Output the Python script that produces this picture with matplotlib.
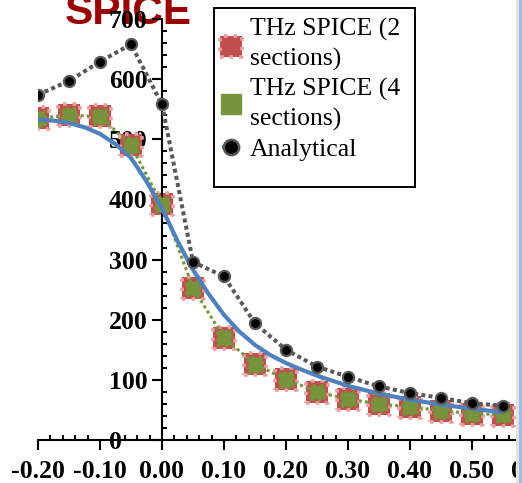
import numpy as np
import matplotlib
matplotlib.use("Agg")
import matplotlib.pyplot as plt
from matplotlib.ticker import MultipleLocator, FormatStrFormatter
from matplotlib.patches import Rectangle
from matplotlib.lines import Line2D

# values
x_spice = [-0.20, -0.15, -0.10, -0.05, 0.00, 0.05, 0.10, 0.15,
           0.20, 0.25, 0.30, 0.35, 0.40, 0.45, 0.50, 0.55]
y_2sec = [535, 540, 538, 490, 392, 253, 170, 126,
          101, 80, 68, 60, 55, 49, 44, 42]
y_4sec = [535, 540, 538, 490, 392, 253, 170, 126,
          101, 80, 68, 60, 55, 49, 44, 42]
y_black = [574, 597, 629, 658, 558, 296, 272, 194,
           150, 122, 105, 89, 78, 70, 61, 57]

x_analytical = [-0.20, -0.175, -0.15, -0.125, -0.10, -0.075, -0.05, -0.025, 0.00,
                0.025, 0.05, 0.075, 0.10, 0.125, 0.15, 0.175, 0.20, 0.225,
                0.25, 0.30, 0.35, 0.40, 0.45, 0.50, 0.55]
y_analytical = [533, 531, 527, 520, 509, 492, 469, 430, 385,
                331, 283, 243, 208, 180, 158, 141, 128, 117,
                107, 90, 77, 67, 59, 52, 46]

labels = ["THz SPICE (2\nsections)", "THz SPICE (4\nsections)", "Analytical"]
title_text = "SPICE"

W, H = 522, 483
fig = plt.figure(figsize=(W / 100, H / 100), dpi=100)
fig.patch.set_facecolor("white")

# axes run past the right edge (the reference is a cropped screenshot)
ax = fig.add_axes([38 / W, 43 / H, 496 / W, 421 / H])
ax.patch.set_visible(False)

red = "#c0504d"
pink = "#e8a0a0"
green = "#77933c"
blue = "#4f81bd"
grey = "#595959"

sc_red = ax.scatter(x_spice, y_2sec, s=250, marker="s", facecolor=red,
                    edgecolor=pink, linewidths=2.6, linestyles=":", zorder=2)
ax.plot(x_spice, y_4sec, color=green, lw=2.2, linestyle=(0, (1, 1)), zorder=3)
ax.scatter(x_spice, y_4sec, s=110, marker="s", facecolor=green,
           edgecolor=green, linewidths=2, linestyles=":", zorder=3)
ax.plot(x_analytical, y_analytical, color=blue, lw=3, zorder=4,
        solid_capstyle="butt")
ax.plot(x_spice, y_black, color=grey, lw=2.9, linestyle=(0, (1, 0.8)),
        marker="o", ms=8, mfc="black", mec=grey, mew=1.6, zorder=5)

ax.set_xlim(-0.2, 0.6)
ax.set_ylim(0, 700)

for s in ["top", "right"]:
    ax.spines[s].set_visible(False)
ax.spines["left"].set_position(("data", 0))
ax.spines["left"].set_linewidth(1.5)
ax.spines["bottom"].set_linewidth(1.5)

ax.xaxis.set_major_locator(MultipleLocator(0.1))
ax.xaxis.set_minor_locator(MultipleLocator(0.02))
ax.yaxis.set_major_locator(MultipleLocator(100))
ax.yaxis.set_minor_locator(MultipleLocator(20))
ax.xaxis.set_major_formatter(FormatStrFormatter("%.2f"))
ax.yaxis.set_major_formatter(FormatStrFormatter("%d"))

ax.tick_params(which="major", direction="out", length=7.2, width=1.5)
ax.tick_params(which="minor", direction="in", length=3.6, width=1.5)
ax.tick_params(axis="x", which="major", pad=7)
ax.tick_params(axis="y", which="major", pad=31)

tick_font = dict(family="Liberation Serif", weight="bold", size=18.5)
for t in ax.get_xticklabels():
    t.set_fontproperties(tick_font)
for t in ax.get_yticklabels():
    t.set_fontproperties(tick_font)
    t.set_ha("left")

fig.text(65 / W, 1 - 24 / H, title_text, color="#990000", fontsize=30.5,
         fontweight="bold", family="Liberation Sans", va="baseline", zorder=-1)

# legend box drawn by hand (reference box has extra room at the bottom)
fig.patches.append(Rectangle((214 / W, 1 - 187 / H), 201 / W, 179 / H,
                             transform=fig.transFigure, facecolor="white",
                             edgecolor="black", lw=1.4, zorder=4))
h_green = Line2D([], [], color=green, lw=2.5, marker="s", ms=15, mfc=green, mec=green)
h_blue = Line2D([], [], color=blue, lw=3)
h_black = Line2D([], [], color=grey, lw=0, marker="o", ms=11, mfc="black", mec=grey, mew=1.8)
leg = fig.legend([sc_red, h_green, (h_blue, h_black)], labels,
                 loc="upper left", bbox_to_anchor=(214 / W, 1 - 8 / H),
                 bbox_transform=fig.transFigure, frameon=False, scatterpoints=1,
                 handlelength=0.5, handletextpad=0.5, borderpad=0.4,
                 borderaxespad=0, labelspacing=0.28,
                 prop=dict(family="Liberation Serif", size=18.5))
for t in leg.get_texts():
    t.set_linespacing(1.38)

# screenshot window edge on the right
fig.patches.append(Rectangle((516 / W, 0), 3 / W, 1, transform=fig.transFigure,
                             facecolor="#e4e4e4", edgecolor="none", zorder=10))
fig.patches.append(Rectangle((519 / W, 0), 3 / W, 1, transform=fig.transFigure,
                             facecolor="#9fbde0", edgecolor="none", zorder=10))

fig.savefig("out.png", dpi=100)
